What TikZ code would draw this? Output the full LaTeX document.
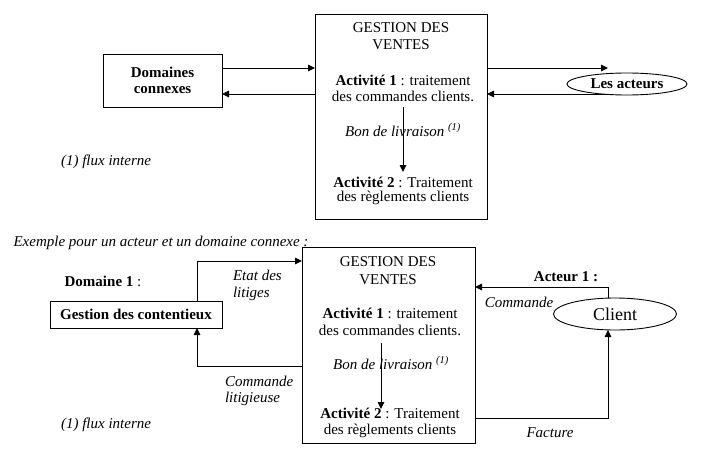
\documentclass[tikz,border=0pt]{standalone}
\usepackage{fontspec}
\setmainfont{Liberation Serif}
\usetikzlibrary{arrows.meta,shapes.geometric}
\begin{document}
\begin{tikzpicture}[x=1pt,y=-1pt,
  every node/.style={inner sep=0pt,outer sep=0pt,font=\fontsize{15}{16.5}\selectfont},
  boxshape/.style={draw,line width=0.9pt,rectangle},
  ellshape/.style={draw,line width=0.9pt,ellipse},
  arr/.style={line width=0.9pt,-{Triangle[length=7pt,width=6.5pt]}},
  lbl/.style={font=\fontsize{15}{16.5}\selectfont\itshape},
  note/.style={font=\fontsize{15}{16.5}\selectfont\itshape}]
\useasboundingbox (0,0) rectangle (720,452);

% ---------- top diagram ----------
\node[boxshape,minimum width=172pt,minimum height=205pt] (gv1) at (401,116.5) {};
\node[boxshape,minimum width=119pt,minimum height=53pt,align=center,font=\fontsize{15}{16.5}\selectfont\bfseries] (dom) at (162.5,80.5) {Domaines\\connexes};
\node[ellshape,minimum width=120pt,minimum height=22pt,font=\fontsize{15}{16.5}\selectfont\bfseries] (act) at (627,84) {Les acteurs};

\node (t1a) at (401,28) {GESTION DES};
\node (t1b) at (401,45) {VENTES};
\node (t1c) at (403,80) {\textbf{Activité 1} : traitement};
\node (t1d) at (403,96) {des commandes clients.};
\node[note] (t1e) at (403,130) {Bon de livraison \textsuperscript{(1)}};
\node (t1f) at (403,182) {\textbf{Activité 2} : Traitement};
\node (t1g) at (403,198) {des règlements clients};
\node[note] (n1) at (106,162) {(1) flux interne};

\coordinate (ya) at (0,68);
\coordinate (yb) at (0,94);
\coordinate (acin) at (608,68);
\coordinate (acout) at (608,94);
\coordinate (i1s) at (403,107);
\coordinate (i1e) at (403,172);

\draw[arr] (dom.east |- ya) -- (gv1.west |- ya);
\draw[arr] (gv1.west |- yb) -- (dom.east |- yb);
\draw[arr] (gv1.east |- ya) -- (acin);
\draw[arr] (acout) -- (gv1.east |- yb);
\draw[arr] (i1s) -- (i1e);

% ---------- bottom diagram ----------
\node[note] (ex) at (161,243) {Exemple pour un acteur et un domaine connexe :};
\node[boxshape,minimum width=173pt,minimum height=196pt] (gv2) at (388.5,345) {};
\node[boxshape,minimum width=172pt,minimum height=27pt,font=\fontsize{15}{16.5}\selectfont\bfseries] (cont) at (136,314.5) {Gestion des contentieux};
\node[ellshape,minimum width=123pt,minimum height=32pt,font=\fontsize{18}{20}\selectfont] (cli) at (615,314) {Client};

\node (d1) at (103,281) {\textbf{Domaine 1} :};
\node[font=\fontsize{15}{16.5}\selectfont\bfseries] (a1) at (566,277) {Acteur 1 :};

\node (t2a) at (388,262) {GESTION DES};
\node (t2b) at (388,280) {VENTES};
\node (t2c) at (390,313) {\textbf{Activité 1} : traitement};
\node (t2d) at (390,330) {des commandes clients.};
\node[note] (t2e) at (391,363) {Bon de livraison \textsuperscript{(1)}};
\node (t2f) at (390,413) {\textbf{Activité 2} : Traitement};
\node (t2g) at (390,431) {des règlements clients};
\node[note] (n2) at (106,425) {(1) flux interne};

\node[lbl,align=left,anchor=west] (etat) at (233,285.5) {Etat des\\litiges};
\node[lbl,align=left,anchor=west] (cl) at (225,391) {Commande\\litigieuse};
\node[lbl] (cmd) at (519,302) {Commande};
\node[lbl] (fac) at (550,433) {Facture};

\coordinate (xl) at (197,0);
\coordinate (xr) at (608,0);
\coordinate (y261) at (0,261);
\coordinate (y366) at (0,366);
\coordinate (y287) at (0,287);
\coordinate (y418) at (0,418);
\coordinate (i2s) at (381,343);
\coordinate (i2e) at (381,409);

\draw[arr] (cont.north -| xl) |- (gv2.west |- y261);
\draw[arr] (gv2.west |- y366) -| (cont.south -| xl);
\draw[arr] (cli.north -| xr) |- (gv2.east |- y287);
\draw[arr] (gv2.east |- y418) -| (cli.south -| xr);
\draw[arr] (i2s) -- (i2e);
\end{tikzpicture}
\end{document}
